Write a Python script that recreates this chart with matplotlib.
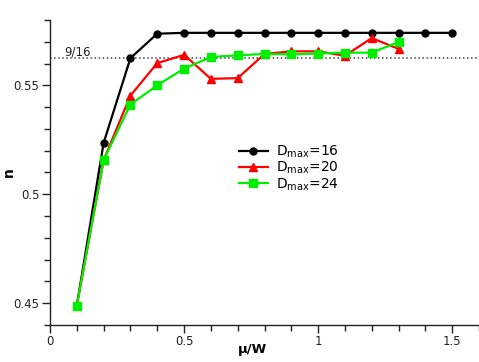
import matplotlib
matplotlib.use('Agg')
import matplotlib.pyplot as plt
import numpy as np
from matplotlib.ticker import MultipleLocator

# data
mu_16 = [0.1, 0.2, 0.3, 0.4, 0.5, 0.6, 0.7, 0.8, 0.9, 1.0, 1.1, 1.2, 1.3, 1.4, 1.5]
n_16 = [0.449, 0.5236, 0.5625, 0.5737, 0.5741, 0.5741, 0.5741, 0.5741, 0.5741,
        0.5741, 0.5741, 0.5741, 0.5741, 0.5741, 0.5741]
mu_20 = [0.1, 0.2, 0.3, 0.4, 0.5, 0.6, 0.7, 0.8, 0.9, 1.0, 1.1, 1.2, 1.3]
n_20 = [0.449, 0.5157, 0.5453, 0.5602, 0.5640, 0.5530, 0.5533, 0.5644, 0.5656,
        0.5656, 0.5636, 0.5717, 0.5667]
mu_24 = [0.1, 0.2, 0.3, 0.4, 0.5, 0.6, 0.7, 0.8, 0.9, 1.0, 1.1, 1.2, 1.3]
n_24 = [0.4489, 0.5157, 0.5412, 0.5500, 0.5577, 0.5630, 0.5638, 0.5644, 0.5642,
        0.5646, 0.5650, 0.5650, 0.5699]
labels = ['D$_{\\mathrm{max}}$=16', 'D$_{\\mathrm{max}}$=20', 'D$_{\\mathrm{max}}$=24']
ref_val = 9 / 16

fig = plt.figure(figsize=(4.79, 3.62), dpi=100)
ax = fig.add_axes([0.1044, 0.1022, 0.8956, 0.8426])

ax.axhline(ref_val, color='#444444', ls=':', lw=1.1, zorder=1)
ax.text(0.052, ref_val + 0.001, '9/16', fontsize=8.5, color='#222222')

ax.plot(mu_16, n_16, '-o', color='black', lw=1.6, ms=5, label=labels[0], zorder=3)
ax.plot(mu_20, n_20, '-^', color='#ff0000', lw=1.6, ms=5.5, label=labels[1], zorder=4)
ax.plot(mu_24, n_24, '-s', color='#00ee00', lw=1.6, ms=6, label=labels[2], zorder=5)

ax.set_xlim(0, 1.6)
ax.set_ylim(0.44, 0.58)
ax.xaxis.set_major_locator(MultipleLocator(0.5))
ax.xaxis.set_minor_locator(MultipleLocator(0.1))
ax.yaxis.set_major_locator(MultipleLocator(0.05))
ax.yaxis.set_minor_locator(MultipleLocator(0.01))
ax.set_xticks([0, 0.5, 1, 1.5])
ax.set_xticklabels(['0', '0.5', '1', '1.5'])
ax.set_yticks([0.45, 0.5, 0.55])
ax.set_yticklabels(['0.45', '0.5', '0.55'])
ax.tick_params(which='major', length=5.5, width=1, labelsize=8.5, colors='#222222', pad=2)
ax.tick_params(which='minor', length=4.5, width=1, colors='#222222')
for s in ['top', 'right']:
    ax.spines[s].set_visible(False)
for s in ['left', 'bottom']:
    ax.spines[s].set_linewidth(1)
    ax.spines[s].set_color('#222222')

ax.set_xlabel('μ/W', fontweight='bold', fontsize=9.5)
ax.xaxis.set_label_coords(0.473, -0.058)
ax.set_ylabel('n', fontweight='bold', fontsize=10, rotation=90)
ax.yaxis.set_label_coords(-0.08, 0.50)

ax.legend(loc='upper left', bbox_to_anchor=(0.424, 0.618), frameon=False,
          fontsize=10, handlelength=2.1, handletextpad=0.6, labelspacing=0.0,
          borderpad=0)

fig.savefig('out.png', dpi=100)
